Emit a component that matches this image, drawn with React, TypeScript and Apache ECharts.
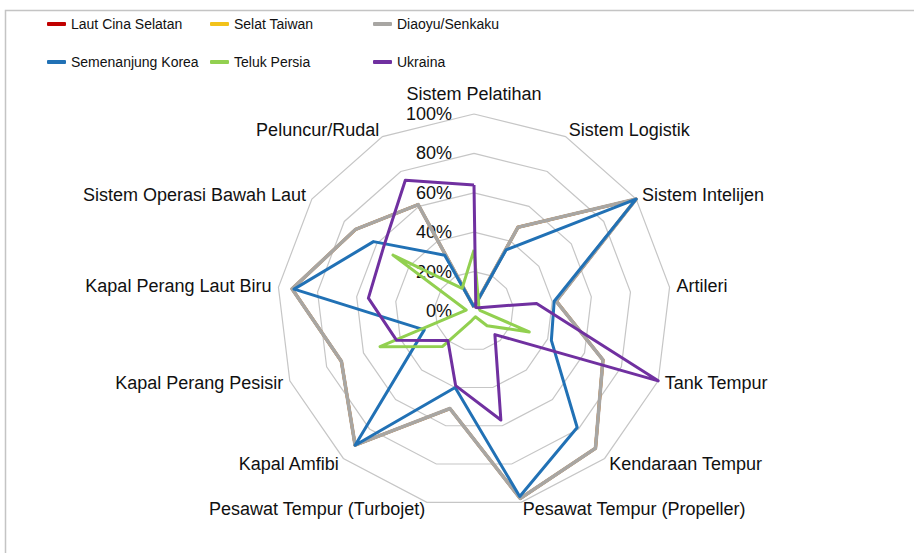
import React, { useEffect, useRef } from 'react';
import * as echarts from 'echarts';

// Indicators, listed clockwise starting at the top
const indicators = [
  'Sistem Pelatihan',
  'Sistem Logistik',
  'Sistem Intelijen',
  'Artileri',
  'Tank Tempur',
  'Kendaraan Tempur',
  'Pesawat Tempur (Propeller)',
  'Pesawat Tempur (Turbojet)',
  'Kapal Amfibi',
  'Kapal Perang Pesisir',
  'Kapal Perang Laut Biru',
  'Sistem Operasi Bawah Laut',
  'Peluncur/Rudal',
];

const seriesNames = [
  'Laut Cina Selatan',
  'Selat Taiwan',
  'Diaoyu/Senkaku',
  'Semenanjung Korea',
  'Teluk Persia',
  'Ukraina',
];

// values in percent, same clockwise order as indicators
const lautCinaSelatan = [2, 48, 100, 42, 70, 93, 98, 51, 91, 72, 93, 73, 61];
const selatTaiwan = [2, 48, 100, 42, 70, 93, 98, 51, 91, 72, 93, 73, 61];
const diaoyuSenkaku = [2, 48, 100, 42, 70, 93, 98, 51, 91, 72, 93, 73, 61];
const semenanjungKorea = [2, 35, 100, 41, 42, 79, 97, 40, 91, 27, 92, 62, 32];
const telukPersia = [31, 5, 3, 3, 30, 10, 3, 5, 24, 51, 4, 50, 13];
const ukraina = [64, 2, 3, 32, 100, 16, 57, 39, 20, 42, 54, 56, 75];

const axisMin = 0;
const axisMax = 100;
const axisSplits = 5;

const seriesValues = [lautCinaSelatan, selatTaiwan, diaoyuSenkaku, semenanjungKorea, telukPersia, ukraina];
const seriesColors = ['#c00000', '#f2c21a', '#a8a6a3', '#2171b5', '#92d050', '#7030a0'];
const seriesWidths = [3, 3, 3.6, 3, 3, 3];

// ECharts places radar indicators counter-clockwise; reverse to get clockwise order
function toCCW<T>(arr: T[]): T[] {
  return [arr[0], ...arr.slice(1).reverse()];
}

const FONT = "'Liberation Sans', Arial, sans-serif";

export default function App() {
  const ref = useRef<HTMLDivElement>(null);

  useEffect(() => {
    if (!ref.current) return;
    const chart = echarts.init(ref.current, undefined, { renderer: 'svg' });

    const legendLefts = [47, 210, 373];
    const legendTops = [17, 55];

    const option: any = {
      animation: false,
      backgroundColor: '#ffffff',
      textStyle: { fontFamily: FONT },
      graphic: [
        {
          type: 'rect',
          shape: { x: 5.5, y: 10.5, width: 1200, height: 1200 },
          style: { fill: 'none', stroke: '#c4c4c4', lineWidth: 1.5 },
          silent: true,
        },
      ],
      legend: seriesNames.map((name, i) => ({
        data: [name],
        left: legendLefts[i % 3],
        top: legendTops[Math.floor(i / 3)],
        icon: 'roundRect',
        itemWidth: 19,
        itemHeight: 4,
        padding: 0,
        selectedMode: false,
        textStyle: { color: '#111', fontSize: 14, fontFamily: FONT },
      })),
      radar: {
        center: [474, 311],
        radius: 197,
        startAngle: 90,
        shape: 'polygon',
        splitNumber: axisSplits,
        nameGap: 7,
        axisName: { color: '#111', fontSize: 18, lineHeight: 17, fontFamily: FONT },
        axisLine: { show: false },
        axisTick: { show: false },
        axisLabel: { show: false },
        splitLine: { lineStyle: { color: '#c6c6c6', width: 1.2 } },
        splitArea: { show: false },
        indicator: toCCW(indicators).map((name, i) => {
          const ind: any = { name, min: axisMin, max: axisMax };
          if (i === 0) {
            ind.nameGap = 12;
            ind.axisLabel = {
              show: true,
              formatter: '{value}%',
              color: '#111',
              fontSize: 18,
              lineHeight: 16,
              fontFamily: FONT,
              margin: 22,
            };
          }
          return ind;
        }),
      },
      series: [
        {
          type: 'radar',
          symbol: 'none',
          data: seriesNames.map((name, i) => ({
            name,
            value: toCCW(seriesValues[i]),
            symbol: 'none',
            lineStyle: { color: seriesColors[i], width: seriesWidths[i] },
            itemStyle: { color: seriesColors[i] },
          })),
        },
      ],
    };

    chart.setOption(option);
    return () => chart.dispose();
  }, []);

  return (
    <div
      ref={ref}
      style={{ position: 'fixed', left: 0, top: 0, width: 914, height: 553, background: '#fff' }}
    />
  );
}
